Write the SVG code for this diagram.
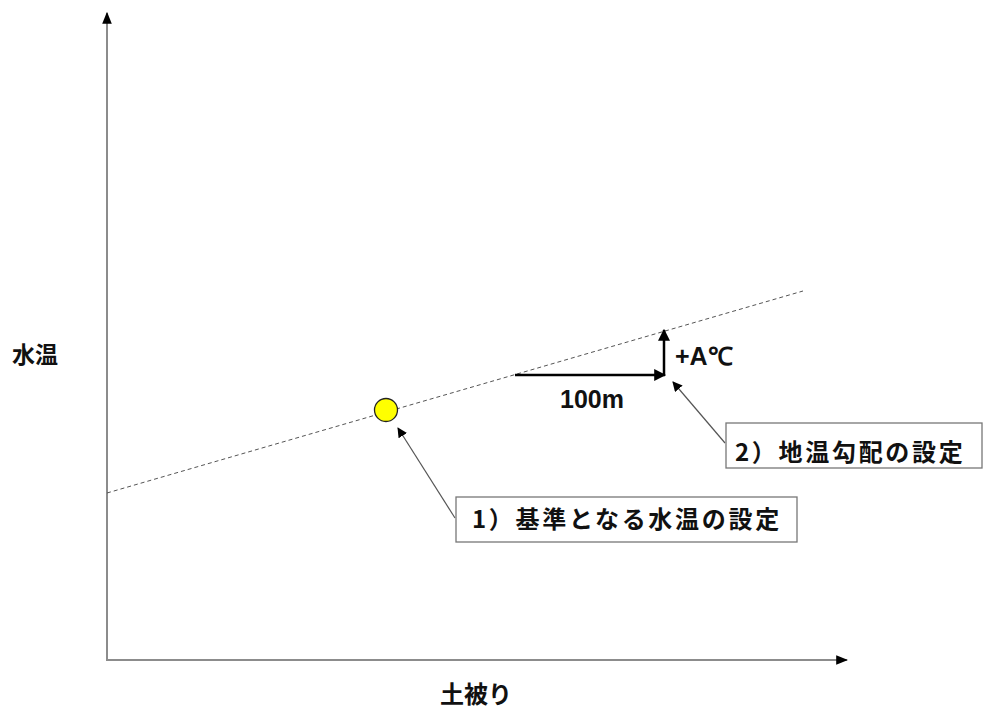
<svg xmlns="http://www.w3.org/2000/svg" width="983" height="711" viewBox="0 0 983 711">
<style>
.axis{stroke:#8c8c8c;stroke-width:2;fill:none}
.lead{stroke:#555;stroke-width:1.2;fill:none}
.bold{stroke:#000;stroke-width:2.5;fill:none}
.t{font-family:"Noto Sans CJK JP","Liberation Sans",sans-serif;font-weight:bold;fill:#111}
.a{font-family:"Liberation Sans",Arial,sans-serif;font-weight:bold;fill:#111}
.box{fill:#fff;stroke:#777;stroke-width:1.3}
</style>
<defs>
<marker id="ah" viewBox="0 0 10 10" refX="9" refY="5" markerWidth="10" markerHeight="10" markerUnits="userSpaceOnUse" orient="auto"><path d="M0,0 L10,5 L0,10 z" fill="#000"/></marker>
<marker id="ah2" viewBox="0 0 10 10" refX="9" refY="5" markerWidth="12" markerHeight="12" markerUnits="userSpaceOnUse" orient="auto"><path d="M0,1 L10,5 L0,9 z" fill="#000"/></marker>
<marker id="ahb" viewBox="0 0 10 10" refX="9" refY="5" markerWidth="12" markerHeight="12" markerUnits="userSpaceOnUse" orient="auto"><path d="M0,0 L10,5 L0,10 z" fill="#000"/></marker>
</defs>
<g id="connectors">
<line class="axis" x1="107" y1="661" x2="107" y2="13" marker-end="url(#ah2)"/>
<line class="axis" x1="106" y1="660" x2="847" y2="660" marker-end="url(#ah2)"/>
<line x1="107" y1="493" x2="803" y2="291" stroke="#555" stroke-width="1" stroke-dasharray="4,3"/>
<line class="bold" x1="515" y1="375" x2="665" y2="375" marker-end="url(#ahb)"/>
<line class="bold" x1="664" y1="376" x2="664" y2="330" marker-end="url(#ahb)"/>
<line class="lead" x1="455" y1="518" x2="398" y2="428" marker-end="url(#ah)"/>
<line class="lead" x1="725" y1="443" x2="673" y2="382" marker-end="url(#ah)"/>
</g>
<g id="point"><circle cx="386" cy="410" r="11.5" fill="#ffff00" stroke="#222" stroke-width="1.3"/></g>
<g id="ylabel"><text class="t" x="12" y="363" font-size="23">水温</text></g>
<g id="xlabel"><text class="t" x="440" y="703" font-size="24">土被り</text></g>
<g id="dx"><text class="a" x="592" y="408" font-size="25" text-anchor="middle">100m</text></g>
<g id="dy"><text class="a" x="675" y="365" font-size="25">+A℃</text></g>
<g id="label1">
<rect class="box" x="456" y="497" width="341" height="45"/>
<text class="t" x="472" y="528" font-size="24" letter-spacing="2.7">1）基準となる水温の設定</text>
</g>
<g id="label2">
<rect class="box" x="726" y="423" width="256" height="45"/>
<text class="t" x="735" y="461" font-size="24" letter-spacing="2.7">2）地温勾配の設定</text>
</g>
</svg>
